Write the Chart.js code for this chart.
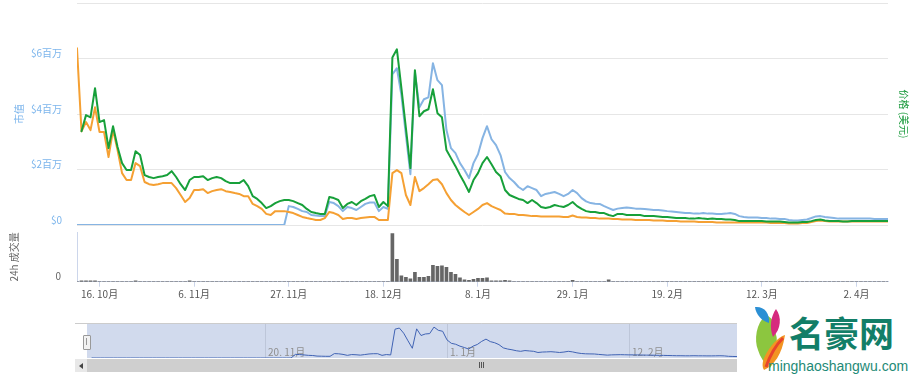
<!DOCTYPE html>
<html><head><meta charset="utf-8">
<script src="https://cdn.jsdelivr.net/npm/chart.js@4.4.1/dist/chart.umd.min.js"></script>
<style>
html,body{margin:0;padding:0;background:#fff;width:917px;height:380px;overflow:hidden;position:relative;font-family:"Noto Sans CJK SC",sans-serif}
canvas{position:absolute;left:0}
#cMain{top:0}
#cVol{top:228px}
#cNav{top:320px}
.abs{position:absolute}
</style></head><body>
<canvas id="cMain" width="917" height="227"></canvas>
<canvas id="cVol" width="917" height="80"></canvas>
<canvas id="cNav" width="917" height="40"></canvas>
<!-- scrollbar -->
<div class="abs" style="left:75px;top:359px;width:813px;height:13px;background:#f2f2f2"></div>
<div class="abs" style="left:87px;top:359px;width:801px;height:13px;background:#cfcfcf"></div>
<div class="abs" style="left:75px;top:359px;width:12px;height:13px;background:#e8e8e8"></div>
<div class="abs" style="left:79px;top:363px;width:0;height:0;border-top:3px solid transparent;border-bottom:3px solid transparent;border-right:4px solid #444"></div>
<div class="abs" style="left:479px;top:362px;width:1px;height:6px;background:#555"></div>
<div class="abs" style="left:481px;top:362px;width:1px;height:6px;background:#555"></div>
<div class="abs" style="left:483px;top:362px;width:1px;height:6px;background:#555"></div>
<!-- navigator handle -->
<div class="abs" style="left:83px;top:335px;width:6px;height:13px;background:#f2f2f2;border:1px solid #999;border-radius:1px"></div>
<div class="abs" style="left:86px;top:338px;width:1px;height:7px;background:#999"></div>
<!-- watermark -->
<div class="abs" style="left:737px;top:305px;width:180px;height:75px;background:#fff">
 <svg class="abs" style="left:8px;top:0" width="50" height="70" viewBox="0 0 50 70">
  <path d="M21 10 C11 18 9 35 13 45 C15 52 19 58 25 63 L30 55 C26 50 27 44 30 40 C33 36 32 30 29 26 C31 20 29 14 21 10Z" fill="#8cc63f"/>
  <path d="M10 2 C19 1 25 8 24 18 C17 16 11 10 10 2Z" fill="#2b8fd4"/>
  <path d="M31 4 C37 12 36 24 28 32 C24 22 26 11 31 4Z" fill="#d62a7e"/>
  <path d="M40 30 C33 32 25 41 20 51 C17 57 17 62 19 65 C29 60 37 50 40 30Z" fill="#f29422"/>
  <path d="M38 33 C31 40 25 50 21 62" stroke="#e8452b" stroke-width="3" fill="none"/>
 </svg>
 <div class="abs" style="left:52px;top:9px;font:700 35px 'Noto Sans CJK SC';color:#127e68;line-height:1;white-space:nowrap">名豪网</div>
 <div class="abs" style="left:31px;top:54px;font:14px 'Liberation Sans',sans-serif;color:#1e8a76;line-height:1;white-space:nowrap">minghaoshangwu.com</div>
</div>
<script>
// ---- data (daily, starting 11 Oct; index = day number) ----
const tickDays = [5, 26, 47, 68, 89, 110, 131, 152, 173];
const tickLabels = ['16. 10月', '6. 11月', '27. 11月', '18. 12月', '8. 1月', '29. 1月', '19. 2月', '12. 3月', '2. 4月'];
const navTickDays = [40, 82, 124];
const navTickLabels = ['20. 11月', '1. 1月', '12. 2月'];
const capTicks = [0, 2, 4, 6, 8];

// market cap, USD millions
const marketCap = [
0,0,0,0,0,0,0,0,0,0,
0,0,0,0,0,0,0,0,0,0,
0,0,0,0,0,0,0,0,0,0,
0,0,0,0,0,0,0,0,0,0,
0,0,0,0,0,0,0,0.68,0.65,0.58,
0.50,0.47,0.36,0.34,0.32,0.32,0.83,0.79,0.68,0.50,
0.65,0.61,0.54,0.65,0.76,0.81,0.81,0.50,0.65,0.58,
5.43,5.65,4.68,3.24,1.83,5.50,4.24,4.53,4.60,5.83,
5.22,5.04,3.42,2.77,2.59,2.23,1.98,1.69,2.23,2.55,
3.13,3.56,3.09,2.88,2.52,1.91,1.69,1.55,1.37,1.26,
1.40,1.33,1.26,1.04,1.12,1.15,1.19,1.12,1.04,1.12,
1.26,1.15,0.97,0.85,0.79,0.77,0.76,0.68,0.61,0.54,
0.59,0.61,0.63,0.61,0.59,0.59,0.58,0.56,0.54,0.54,
0.52,0.50,0.49,0.47,0.45,0.43,0.43,0.41,0.41,0.43,
0.41,0.41,0.40,0.40,0.41,0.43,0.40,0.32,0.29,0.27,
0.27,0.27,0.25,0.25,0.23,0.23,0.22,0.22,0.18,0.16,
0.16,0.18,0.20,0.25,0.31,0.32,0.29,0.27,0.25,0.23,
0.23,0.23,0.23,0.23,0.23,0.23,0.23,0.22,0.22,0.22,0.22
];

// price, USD
const priceUsd = [
null,0.338,0.396,0.388,0.493,0.371,0.378,0.277,0.356,0.281,
0.223,0.198,0.198,0.266,0.252,0.180,0.173,0.169,0.173,0.176,
0.180,0.194,0.173,0.147,0.126,0.162,0.173,0.173,0.176,0.162,
0.169,0.173,0.169,0.158,0.151,0.151,0.151,0.162,0.140,0.104,
0.094,0.079,0.061,0.068,0.079,0.086,0.090,0.090,0.086,0.079,
0.072,0.058,0.047,0.043,0.040,0.040,0.101,0.097,0.090,0.061,
0.076,0.083,0.072,0.086,0.094,0.104,0.108,0.065,0.083,0.068,
0.604,0.633,0.493,0.349,0.205,0.558,0.392,0.410,0.417,0.489,
0.403,0.388,0.270,0.241,0.212,0.180,0.151,0.119,0.162,0.187,
0.223,0.245,0.219,0.191,0.176,0.126,0.108,0.101,0.094,0.090,
0.079,0.090,0.079,0.065,0.061,0.065,0.072,0.068,0.065,0.072,
0.083,0.068,0.058,0.050,0.047,0.047,0.043,0.043,0.036,0.032,
0.040,0.040,0.036,0.036,0.036,0.036,0.032,0.032,0.032,0.031,
0.029,0.029,0.027,0.025,0.025,0.025,0.023,0.023,0.025,0.023,
0.022,0.023,0.022,0.022,0.020,0.020,0.018,0.014,0.014,0.014,
0.014,0.014,0.014,0.013,0.013,0.013,0.013,0.011,0.009,0.009,
0.009,0.011,0.011,0.014,0.018,0.020,0.016,0.014,0.014,0.014,
0.013,0.013,0.014,0.014,0.014,0.014,0.014,0.014,0.014,0.014,0.014
];

// price, satoshi
const priceBtc = [
63.7,33.8,37.1,34.2,42.4,33.5,33.5,24.5,34.2,27.0,
18.7,16.2,16.2,22.3,21.2,15.5,14.7,14.4,14.7,15.1,
15.1,15.1,13.3,10.8,8.3,9.7,12.6,12.6,12.9,11.5,
12.2,12.6,12.9,12.2,11.9,11.5,11.2,10.4,10.4,7.6,
6.8,5.8,4.0,3.6,5.0,5.0,5.0,4.7,4.3,3.6,
2.9,2.5,2.2,1.8,1.8,2.5,4.7,4.3,3.6,2.2,
2.5,2.5,2.2,2.5,2.7,2.9,2.9,1.8,1.8,1.8,
18.7,19.8,18.7,10.8,7.2,17.3,12.2,13.3,14.7,16.2,
16.5,14.7,11.5,9.0,7.2,5.9,4.7,3.6,4.7,5.8,
7.2,7.9,6.8,6.1,5.4,4.1,4.0,4.0,3.6,3.6,
3.4,3.2,3.2,3.1,3.1,3.1,3.1,3.1,2.9,2.9,
3.4,2.9,2.7,2.7,2.5,2.5,2.3,2.3,2.3,2.2,
2.2,2.0,2.0,2.0,1.8,1.8,1.8,1.8,1.6,1.6,
1.6,1.4,1.4,1.4,1.3,1.3,1.3,1.3,1.1,1.1,
1.1,1.1,0.9,0.9,0.9,0.9,0.9,0.9,0.9,0.9,
0.9,0.9,0.9,0.9,0.7,0.7,0.7,0.7,0.5,0.5,
0.5,0.7,0.7,1.1,1.4,1.6,1.4,1.3,1.3,1.3,
1.3,1.3,1.3,1.3,1.3,1.3,1.3,1.3,1.3,1.3,1.3
];

// 24h volume, USD thousands
const volume = [
0,20,20,20,20,0,0,0,0,0,
0,0,0,20,0,0,0,0,0,0,
0,0,0,0,0,20,0,0,0,0,
0,0,0,0,0,0,0,0,0,0,
0,0,0,0,0,0,0,0,0,0,
0,0,0,0,0,0,0,0,0,0,
0,0,0,0,0,0,0,0,0,0,
970,450,120,90,60,190,90,90,110,330,
310,320,290,190,150,80,40,30,50,70,
70,80,20,20,20,30,15,0,0,0,
0,0,0,0,0,0,0,0,0,0,
30,0,0,0,0,0,0,0,40,0,
0,0,0,0,0,0,0,0,0,0,
0,0,0,0,0,0,0,0,0,0,
0,0,0,0,0,0,0,0,0,0,
0,0,0,0,0,0,0,0,0,0,
0,0,0,0,0,0,0,0,0,0,
0,0,0,0,0,0,0,0,0,0,0
];

// ---- rendering ----
const FONT = '"Noto Sans CJK SC", "Noto Sans", sans-serif';
Chart.defaults.font.family = FONT;
Chart.defaults.font.size = 10;
const toXY = arr => arr.map((v, i) => ({x: i, y: v}));
const lastDay = marketCap.length - 1;
const fixY = w => s => { s.width = w; s.paddingTop = 0; s.paddingBottom = 0; };
const base = {
  responsive: false, animation: false, devicePixelRatio: 1,
  plugins: {legend: {display: false}, tooltip: {enabled: false}},
  elements: {point: {radius: 0}, line: {tension: 0, borderJoinStyle: 'round', borderCapStyle: 'round'}}
};

new Chart(document.getElementById('cMain'), {
  type: 'line',
  data: {datasets: [
    {data: toXY(priceUsd), yAxisID: 'yUsd', borderColor: '#17a03a', borderWidth: 2, order: 1},
    {data: toXY(priceBtc), yAxisID: 'yBtc', borderColor: '#f5a033', borderWidth: 2, order: 2},
    {data: toXY(marketCap), yAxisID: 'y', borderColor: '#86b4e3', borderWidth: 2, order: 3}
  ]},
  options: {...base,
    layout: {padding: {top: 3, bottom: 2, left: 0, right: 0}},
    scales: {
      x: {type: 'linear', min: 0, max: lastDay, display: false, offset: false},
      y: {position: 'left', min: 0, max: 8,
        afterBuildTicks: s => { s.ticks = capTicks.map(v => ({value: v})); },
        grid: {color: '#e6e6e6', drawTicks: false},
        border: {display: false},
        ticks: {color: '#7cb5ec', padding: 15, labelOffset: -5, font: {size: 10},
          callback: v => v === 8 ? '' : (v === 0 ? '$0' : '$' + v + '百万')},
        title: {display: true, text: '市值', color: '#7cb5ec', font: {size: 10}, padding: {top: 13, bottom: 0}},
        afterFit: fixY(77)
      },
      yUsd: {position: 'right', min: 0, max: 0.8,
        grid: {display: false}, border: {display: false}, ticks: {display: false},
        title: {display: true, text: '价格 (美元)', color: '#1a9a3c', font: {size: 10}, padding: {top: 7, bottom: 0}},
        afterFit: fixY(29)
      },
      yBtc: {display: false, min: 0, max: 80}
    }
  }
});

new Chart(document.getElementById('cVol'), {
  type: 'bar',
  data: {datasets: [{data: toXY(volume), backgroundColor: '#666666', barThickness: 3, borderWidth: 0}]},
  options: {...base,
    layout: {padding: {top: 4, right: 29, left: 0, bottom: 0}},
    scales: {
      x: {type: 'linear', min: 0, max: lastDay, offset: false,
        afterBuildTicks: s => { s.ticks = tickDays.map(v => ({value: v})); },
        grid: {drawOnChartArea: false, drawTicks: true, tickLength: 5, color: '#ccd6eb', offset: false},
        border: {display: true, color: '#ccd6eb'},
        ticks: {color: '#555', padding: 2, maxRotation: 0, autoSkip: false, font: {size: 10},
          callback: (v, i) => tickLabels[i]},
        afterFit: s => { s.height = 26.3; s.paddingLeft = 0; s.paddingRight = 0; }
      },
      y: {min: 0, max: 1000,
        afterBuildTicks: s => { s.ticks = [{value: 0}]; },
        grid: {display: false, drawTicks: false},
        border: {display: true, color: '#ccd6eb'},
        ticks: {color: '#666', padding: 16, labelOffset: -5, font: {size: 10}},
        title: {display: true, text: '24h 成交量', color: '#666', font: {size: 10}, padding: {top: 8, bottom: 0}},
        afterFit: fixY(77)
      }
    }
  }
});

const navDeco = {
  id: 'navDeco',
  beforeDatasetsDraw(chart) {
    const {ctx, chartArea: a, scales: {x}} = chart;
    ctx.save();
    ctx.strokeStyle = '#e3e3e3'; ctx.lineWidth = 1;
    navTickDays.forEach(d => {
      const px = Math.round(x.getPixelForValue(d)) + 0.5;
      ctx.beginPath(); ctx.moveTo(px, a.top); ctx.lineTo(px, a.bottom); ctx.stroke();
    });
    ctx.fillStyle = 'rgba(102,133,194,0.3)';
    ctx.fillRect(a.left, a.top, a.right - a.left, a.bottom - a.top);
    ctx.fillStyle = '#8f8f8f'; ctx.font = '10px ' + FONT;
    ctx.textBaseline = 'middle'; ctx.textAlign = 'left';
    navTickDays.forEach((d, i) => ctx.fillText(navTickLabels[i], x.getPixelForValue(d) + 3, a.bottom - 6));
    ctx.strokeStyle = '#cccccc';
    ctx.beginPath(); ctx.moveTo(75, a.top + 0.5); ctx.lineTo(a.right, a.top + 0.5); ctx.stroke();
    ctx.restore();
  }
};

new Chart(document.getElementById('cNav'), {
  type: 'line',
  data: {datasets: [{data: toXY(marketCap), borderColor: '#3f62b3', borderWidth: 1}]},
  options: {...base,
    layout: {padding: {top: 3, bottom: 2, left: 87, right: 29}},
    scales: {
      x: {type: 'linear', min: -1.1, max: 183.8, display: false},
      y: {min: 0, max: 6.6, display: false}
    }
  },
  plugins: [navDeco]
});
</script>
</body></html>
